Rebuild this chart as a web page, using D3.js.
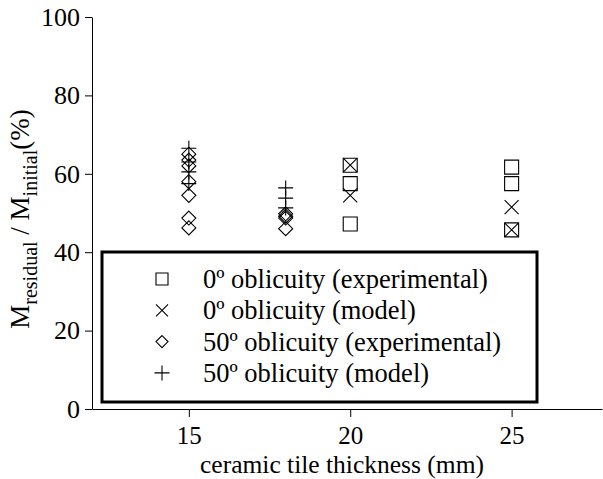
<!DOCTYPE html>
<html><head><meta charset="utf-8">
<script src="https://cdn.jsdelivr.net/npm/d3@7"></script>
<style>body{margin:0;background:#fff;} text{font-family:"Liberation Serif","Times New Roman",Times,serif;fill:#000;}</style>
</head><body>
<svg id="c" width="603" height="479" font-family="Liberation Serif, Times New Roman, serif"></svg>
<script>
const xTicks = [15, 20, 25];
const yTicks = [0, 20, 40, 60, 80, 100];
// 0º oblicuity (experimental)
const sqX = [20, 20, 20, 25, 25, 25];
const sqY = [62.2, 57.5, 47.2, 61.7, 57.5, 45.7];
// 0º oblicuity (model)
const crossX = [20, 20, 25, 25];
const crossY = [62.2, 54.5, 51.5, 45.7];
// 50º oblicuity (experimental)
const diaX = [15, 15, 15, 15, 15, 15, 15, 18, 18, 18, 18];
const diaY = [65, 63.5, 62, 58, 54.5, 48.7, 46.2, 49.8, 49.2, 48.7, 46];
// 50º oblicuity (model)
const plusX = [15, 15, 15, 15, 18, 18, 18];
const plusY = [66.5, 63, 60.5, 57.5, 56.4, 53.8, 51.3];
const legendLabels = ["0º oblicuity (experimental)", "0º oblicuity (model)", "50º oblicuity (experimental)", "50º oblicuity (model)"];

const FONT = '"Liberation Serif","Times New Roman",Times,serif';
const svg = d3.select("#c");
const x = d3.scaleLinear().domain([12, 27.8]).range([92, 602]);
const y = d3.scaleLinear().domain([0, 100]).range([409, 17]);

const yAxis = svg.append("g").attr("transform", "translate(92,0)")
  .call(d3.axisLeft(y).tickValues(yTicks).tickSize(7).tickSizeOuter(0).tickPadding(5));
const xAxis = svg.append("g").attr("transform", "translate(0,409)")
  .call(d3.axisBottom(x).tickValues(xTicks).tickSize(8).tickSizeOuter(0).tickPadding(9));
[yAxis, xAxis].forEach(a => {
  a.attr("font-family", FONT).attr("font-size", 26);
  a.selectAll("path,line").attr("stroke", "#000").attr("stroke-width", 1);
  a.selectAll("text").attr("fill", "#000");
});
xAxis.attr("font-size", 25);

const st = {fill: "none", stroke: "#000", "stroke-width": 1.1};
function marker(g, type, s) {
  const h = s / 2;
  let p;
  if (type === "sq") p = `M${-h},${-h}H${h}V${h}H${-h}Z`;
  else if (type === "x") p = `M${-h},${-h}L${h},${h}M${h},${-h}L${-h},${h}`;
  else if (type === "dia") p = `M0,${-h}L${h},0L0,${h}L${-h},0Z`;
  else p = `M0,${-h}V${h}M${-h},0H${h}`;
  const path = g.append("path").attr("d", p);
  Object.entries(st).forEach(([k, v]) => path.attr(k, v));
}
function series(xs, ys, type, s) {
  xs.forEach((xv, i) => {
    const g = svg.append("g").attr("transform", `translate(${x(xv)},${y(ys[i])})`);
    marker(g, type, s);
  });
}
series(sqX, sqY, "sq", 14);
series(crossX, crossY, "x", 14);
series(diaX, diaY, "dia", 14);
series(plusX, plusY, "plus", 15);

// legend
svg.append("rect").attr("x", 102).attr("y", 252).attr("width", 435).attr("height", 150)
  .attr("fill", "#fff").attr("stroke", "#000").attr("stroke-width", 3);
const types = ["sq", "x", "dia", "plus"];
legendLabels.forEach((t, i) => {
  const cy = 279 + i * 31.3;
  const g = svg.append("g").attr("transform", `translate(162,${cy})`);
  marker(g, types[i], types[i] === "plus" ? 15 : 12);
  svg.append("text").attr("x", 203).attr("y", cy + 9).attr("font-family", FONT)
    .attr("font-size", 26.5).text(t);
});

svg.append("text").attr("x", 342).attr("y", 473).attr("text-anchor", "middle")
  .attr("font-family", FONT).attr("font-size", 25.5).text("ceramic tile thickness (mm)");

const yl = svg.append("text").attr("transform", "translate(29,219) rotate(-90)")
  .attr("text-anchor", "middle").attr("font-family", FONT).attr("font-size", 27);
yl.append("tspan").text("M");
yl.append("tspan").attr("dy", 8).attr("font-size", 20).text("residual");
yl.append("tspan").attr("dy", -8).text(" / M");
yl.append("tspan").attr("dy", 8).attr("font-size", 20).text("initial");
yl.append("tspan").attr("dy", -8).text("(%)");
</script>
</body></html>
